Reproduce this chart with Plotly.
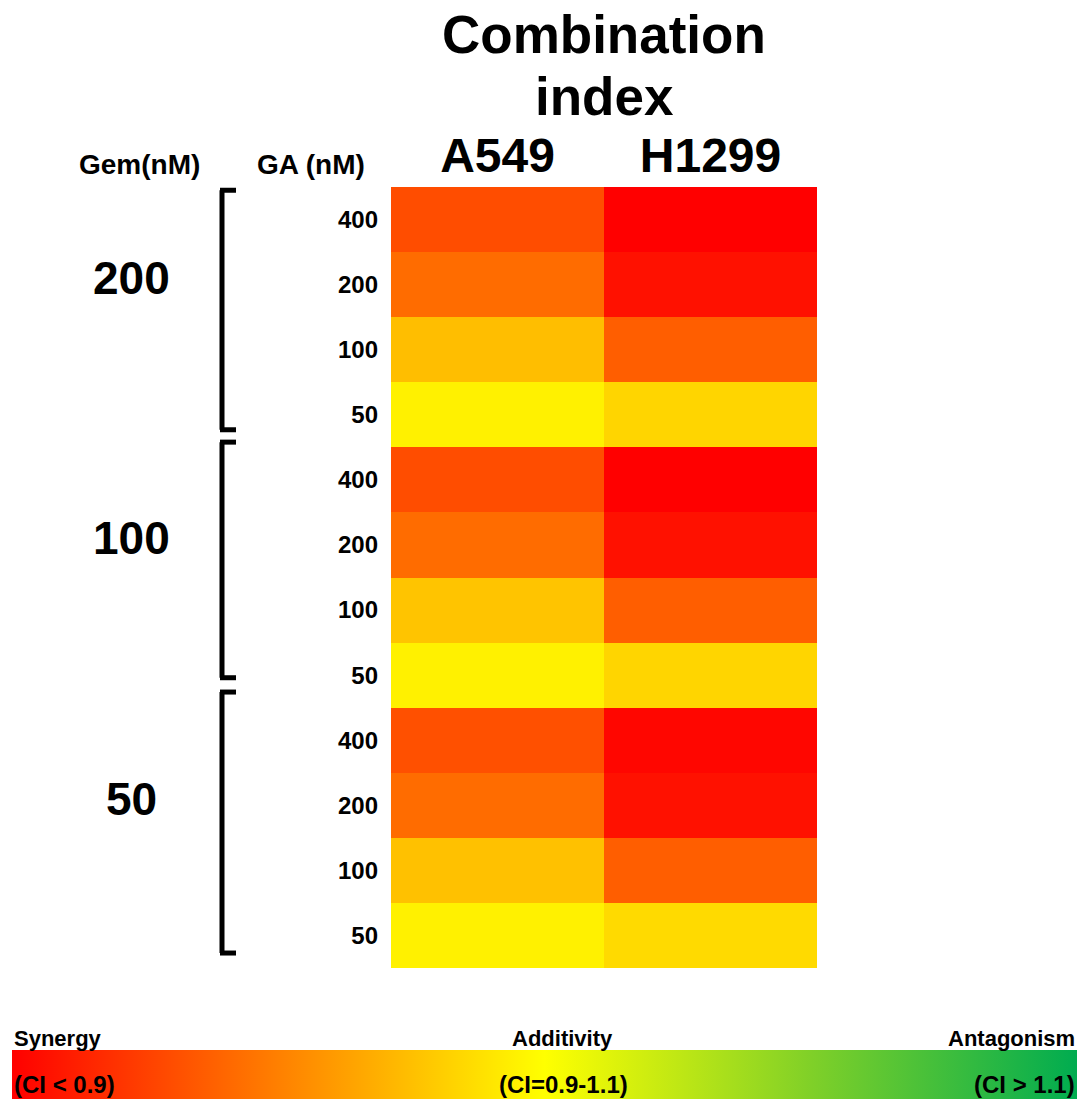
import plotly.graph_objects as go

# ---------------- data ----------------
cell_lines = ["A549", "H1299"]
gem_doses = ["200", "100", "50"]          # Gem (nM) groups, top to bottom
ga_doses = ["400", "200", "100", "50"]    # GA (nM) within each group
# combination index (top to bottom)
ci_a549 = [0.37, 0.48, 0.77, 0.95,
           0.37, 0.48, 0.79, 0.95,
           0.38, 0.48, 0.78, 0.95]
ci_h1299 = [0.10, 0.16, 0.43, 0.85,
            0.10, 0.16, 0.43, 0.85,
            0.12, 0.16, 0.43, 0.87]
scale_labels_top = ["Synergy", "Additivity", "Antagonism"]
scale_labels_in = ["(CI < 0.9)", "(CI=0.9-1.1)", "(CI > 1.1)"]

# ---------------- figure ----------------
W, H = 1085, 1105
FONT = "Liberation Sans, Arial, sans-serif"

rows = [f"{g}|{a}" for g in gem_doses for a in ga_doses]
n_rows = len(rows)
z = [[ci_a549[i], ci_h1299[i]] for i in range(n_rows)]

def px(x):
    return x / W

def py(y):
    return 1 - y / H

fig = go.Figure()
fig.add_trace(go.Heatmap(
    z=z,
    x=list(range(len(cell_lines))),
    y=list(range(n_rows)),
    zmin=0.1, zmax=1.9,
    colorscale=[[0.0, "#FF0000"], [0.25, "#FF8000"], [0.5, "#FFFF00"],
                [0.75, "#80D028"], [1.0, "#00AC50"]],
    xgap=0, ygap=0,
    hoverinfo="z",
    colorbar=dict(
        orientation="h",
        lenmode="pixels", len=1065,
        thickness=49, thicknessmode="pixels",
        x=px(544.5), xanchor="center",
        y=py(1099), yanchor="bottom",
        xpad=0, ypad=0,
        outlinewidth=0,
        showticklabels=False, ticks="",
    ),
))

fig.update_xaxes(
    domain=[px(391), px(817)],
    range=[-0.5, 1.5],
    side="top",
    tickvals=list(range(len(cell_lines))),
    ticktext=cell_lines,
    tickfont=dict(family=FONT, size=48, color="black", weight="bold"),
    ticks="", showline=False, showgrid=False, zeroline=False,
    ticklabelstandoff=4,
    automargin=False,
)
fig.update_yaxes(
    domain=[py(968), py(187)],
    range=[n_rows - 0.5, -0.5],
    tickvals=list(range(n_rows)),
    ticktext=[r.split("|")[1] for r in rows],
    tickfont=dict(family=FONT, size=24, color="black", weight="bold"),
    ticks="", showline=False, showgrid=False, zeroline=False,
    ticklabelstandoff=12,
    automargin=False,
)

ann = []
# title
ann.append(dict(text="Combination", x=px(604), y=py(34), xref="paper", yref="paper",
                showarrow=False, xanchor="center", yanchor="middle",
                font=dict(family=FONT, size=53, color="black", weight="bold")))
ann.append(dict(text="index", x=px(604), y=py(96), xref="paper", yref="paper",
                showarrow=False, xanchor="center", yanchor="middle",
                font=dict(family=FONT, size=53, color="black", weight="bold")))
# headers
ann.append(dict(text="Gem(nM)", x=px(139), y=py(164), xref="paper", yref="paper",
                showarrow=False, xanchor="center", yanchor="middle",
                font=dict(family=FONT, size=28, color="black", weight="bold")))
ann.append(dict(text="GA (nM)", x=px(311), y=py(164), xref="paper", yref="paper",
                showarrow=False, xanchor="center", yanchor="middle",
                font=dict(family=FONT, size=28, color="black", weight="bold")))

# group labels and brackets
n_ga = len(ga_doses)
bracket_spans = [(-0.45, 3.23), (3.42, 7.04), (7.26, 11.27)]
shapes = []
for gi, g in enumerate(gem_doses):
    ann.append(dict(text=g, x=px(131), y=gi * n_ga + 0.9, xref="paper", yref="y",
                    showarrow=False, xanchor="center", yanchor="middle",
                    font=dict(family=FONT, size=46, color="black", weight="bold")))
    y0, y1 = bracket_spans[gi]
    shapes.append(dict(type="line", xref="paper", yref="y", x0=px(222), x1=px(222),
                       y0=y0, y1=y1, line=dict(color="black", width=5)))
    shapes.append(dict(type="line", xref="paper", yref="y", x0=px(220), x1=px(236),
                       y0=y0, y1=y0, line=dict(color="black", width=5)))
    shapes.append(dict(type="line", xref="paper", yref="y", x0=px(220), x1=px(236),
                       y0=y1, y1=y1, line=dict(color="black", width=5)))

# colour scale labels
top_pos = [(12, "left"), (562, "center"), (1077, "right")]
for (xp, anc), t in zip(top_pos, scale_labels_top):
    ann.append(dict(text=t, x=px(xp), y=py(1038), xref="paper", yref="paper",
                    showarrow=False, xanchor=anc, yanchor="middle",
                    font=dict(family=FONT, size=22, color="black", weight="bold")))
in_pos = [(12, "left"), (564, "center"), (1077, "right")]
for (xp, anc), t in zip(in_pos, scale_labels_in):
    ann.append(dict(text=t, x=px(xp), y=py(1084), xref="paper", yref="paper",
                    showarrow=False, xanchor=anc, yanchor="middle",
                    font=dict(family=FONT, size=24, color="black", weight="bold")))

fig.update_layout(
    width=W, height=H,
    margin=dict(l=0, r=0, t=0, b=0),
    template="none",
    paper_bgcolor="white", plot_bgcolor="white",
    annotations=ann,
    shapes=shapes,
    showlegend=False,
)

fig.write_html("out.html",
               config={"displayModeBar": False},
               post_script="document.body.style.margin='0';document.body.style.overflow='hidden';")
